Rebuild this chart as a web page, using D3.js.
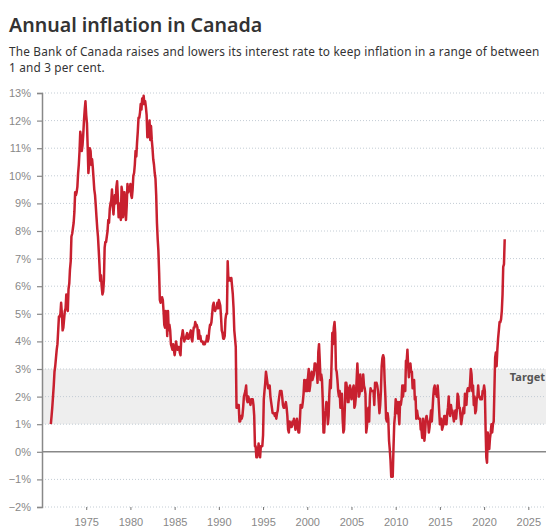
<!DOCTYPE html>
<meta charset="utf-8">
<style>
html, body {
  margin: 0;
  padding: 0;
  background: #fff;
  font-family: "Noto Sans", "Open Sans", sans-serif;
}
.title {
  font-size: 19.6px;
  font-weight: 600;
  fill: #333;
}
.subtitle {
  font-size: 11.8px;
  letter-spacing: 0.18px;
  fill: #333;
}
.tick text {
  font-size: 11px;
  fill: #888;
}
</style>
<svg width="554" height="529"></svg>
<script src="https://cdn.jsdelivr.net/npm/d3@7"></script>
<script>
// monthly 12-month CPI change (%), starting Jan 1971
const startYear = 1971;
const infl1970s = [
  1.0, 1.3, 1.6, 2.0, 2.4, 2.9, 3.1, 3.4, 3.7, 3.9, 4.4, 4.9,
  4.9, 5.0, 5.4, 5.0, 4.4, 4.5, 4.8, 5.1, 5.2, 5.7, 5.3, 5.1,
  5.9, 6.1, 6.6, 6.9, 7.8, 7.9, 8.1, 8.3, 8.7, 9.4, 9.3, 9.4,
  9.6, 10.1, 10.4, 10.9, 11.6, 11.4, 10.9, 11.1, 11.5, 12.0, 12.4, 12.7,
  12.2, 11.9, 11.1, 10.1, 10.4, 11.0, 10.9, 10.4, 10.6, 10.3, 9.9, 9.5,
  9.3, 8.9, 8.5, 8.1, 7.8, 7.3, 6.8, 6.2, 6.4, 6.0, 5.7, 5.8,
  6.2, 7.4, 7.6, 7.6, 7.8, 8.0, 8.4, 8.3, 8.8, 9.0, 9.1, 9.5,
  8.9, 8.6, 9.0, 9.3, 9.0, 9.6, 9.8, 9.2, 8.5, 9.0, 8.6, 8.4,
  9.6, 9.4, 8.5, 8.8, 9.4, 8.9, 8.4, 8.9, 9.7, 9.4, 9.5, 9.5
];
const infl1980s = [
  9.7, 9.3, 9.2, 9.5, 10.0, 10.1, 10.4, 10.9, 10.7, 11.2, 11.6, 12.1,
  12.1, 12.3, 12.6, 12.4, 12.8, 12.6, 12.9, 12.6, 12.7, 12.5, 12.2, 11.4,
  11.4, 11.6, 12.0, 11.3, 11.8, 11.3, 11.0, 10.6, 10.4, 10.1, 9.9, 9.3,
  8.3, 7.7, 7.3, 6.5, 5.5, 5.4, 5.5, 5.6, 5.5, 5.1, 4.6, 4.5,
  5.1, 4.8, 4.2, 5.1, 4.4, 4.6, 4.4, 3.9, 3.8, 3.7, 3.9, 3.7,
  3.5, 3.7, 4.0, 3.8, 3.7, 3.8, 3.8, 3.6, 3.5, 4.1, 4.2, 4.4,
  4.2, 4.0, 4.1, 4.1, 4.2, 4.3, 4.1, 4.1, 4.2, 4.3, 4.4, 4.1,
  4.0, 4.3, 4.5, 4.5, 4.7, 4.6, 4.6, 4.5, 4.1, 4.4, 4.1, 4.2,
  4.0, 4.0, 4.0, 3.9, 3.9, 3.9, 4.0, 4.0, 4.2, 4.0, 4.1, 4.4,
  4.6, 4.6, 4.7, 5.0, 5.3, 5.4, 5.2, 5.1, 5.2, 5.2, 5.4, 5.2
];
const infl1990s = [
  5.5, 5.4, 5.3, 4.9, 4.4, 4.3, 4.1, 4.1, 4.2, 4.8, 5.0, 5.0,
  6.9, 6.2, 6.3, 6.3, 6.2, 6.3, 6.0, 5.7, 5.2, 4.4, 4.1, 3.8,
  1.6, 1.6, 1.7, 1.7, 1.1, 1.1, 1.3, 1.2, 1.3, 1.6, 2.0, 2.1,
  2.2, 2.4, 1.9, 1.8, 2.0, 1.9, 1.8, 1.7, 1.9, 1.9, 1.9, 1.7,
  1.3, 0.2, 0.2, -0.2, -0.2, 0.0, 0.3, 0.0, -0.2, 0.2, 0.2, 0.2,
  0.6, 1.9, 2.2, 2.5, 2.9, 2.7, 2.5, 2.3, 2.3, 2.4, 2.0, 1.8,
  1.6, 1.4, 1.4, 1.4, 1.3, 1.4, 1.2, 1.4, 1.5, 1.8, 2.0, 2.2,
  2.2, 2.2, 2.0, 1.7, 1.6, 1.6, 1.7, 1.8, 1.6, 1.3, 0.8, 0.7,
  1.1, 1.0, 0.9, 0.9, 1.1, 1.0, 1.2, 1.0, 0.8, 1.0, 1.2, 1.0,
  0.7, 0.7, 1.1, 1.7, 1.6, 1.6, 1.8, 2.1, 2.6, 2.3, 2.2, 2.6
];
const infl2000s = [
  2.2, 2.7, 3.0, 2.2, 2.4, 2.8, 2.9, 2.6, 2.7, 2.8, 3.2, 3.2,
  3.0, 2.9, 2.5, 3.6, 3.9, 3.3, 2.6, 2.8, 2.6, 1.9, 0.7, 0.7,
  1.3, 1.5, 1.8, 1.7, 1.0, 1.3, 2.1, 2.6, 2.3, 3.2, 4.3, 3.9,
  4.5, 4.7, 4.3, 3.0, 2.9, 2.6, 2.2, 2.0, 2.2, 1.6, 1.6, 2.1,
  1.2, 0.7, 0.8, 1.6, 2.5, 2.5, 2.3, 1.8, 1.8, 2.3, 2.4, 2.1,
  1.9, 2.1, 2.3, 2.4, 1.6, 1.7, 2.0, 2.6, 3.2, 2.6, 2.0, 2.1,
  2.8, 2.2, 2.2, 2.4, 2.8, 2.4, 2.3, 2.1, 0.7, 0.9, 1.4, 1.6,
  1.1, 2.0, 2.3, 2.2, 2.2, 2.2, 2.2, 1.7, 2.5, 2.4, 2.5, 2.4,
  2.2, 1.8, 1.4, 1.7, 2.2, 3.1, 3.4, 3.5, 3.4, 2.6, 2.0, 1.2,
  1.1, 1.4, 1.2, 0.4, 0.1, -0.3, -0.9, -0.8, -0.9, 0.1, 1.0, 1.3
];
const infl2010s = [
  1.9, 1.6, 1.4, 1.8, 1.4, 1.0, 1.8, 1.7, 1.9, 2.4, 2.0, 2.4,
  2.3, 2.2, 3.3, 3.3, 3.7, 3.1, 2.7, 3.1, 3.2, 2.9, 2.9, 2.3,
  2.5, 2.6, 1.9, 2.0, 1.2, 1.5, 1.3, 1.2, 1.2, 1.2, 0.8, 0.8,
  0.5, 1.2, 1.0, 0.4, 0.7, 1.2, 1.3, 1.1, 1.1, 0.7, 0.9, 1.2,
  1.5, 1.1, 1.5, 2.0, 2.3, 2.4, 2.1, 2.1, 2.0, 2.4, 2.0, 1.5,
  1.0, 1.0, 1.2, 0.8, 0.9, 1.0, 1.3, 1.3, 1.0, 1.0, 1.4, 1.6,
  2.0, 1.4, 1.3, 1.7, 1.5, 1.5, 1.3, 1.1, 1.3, 1.5, 1.2, 1.5,
  2.1, 2.0, 1.6, 1.6, 1.3, 1.0, 1.2, 1.4, 1.6, 1.4, 2.1, 1.9,
  1.7, 2.2, 2.3, 2.2, 2.2, 2.5, 3.0, 2.8, 2.2, 2.4, 1.7, 2.0,
  1.4, 1.5, 1.9, 2.0, 2.4, 2.0, 2.0, 1.9, 1.9, 1.9, 2.2, 2.2
];
const infl2020s = [
  2.4, 2.2, 0.9, -0.2, -0.4, 0.7, 0.1, 0.1, 0.5, 0.7, 1.0, 0.7,
  1.0, 1.1, 2.2, 3.4, 3.6, 3.1, 3.7, 4.1, 4.4, 4.7, 4.7, 4.8,
  5.1, 5.7, 6.7, 6.8, 7.7
];
const yTicks = [-2, -1, 0, 1, 2, 3, 4, 5, 6, 7, 8, 9, 10, 11, 12, 13];
const xTickYears = [1975, 1980, 1985, 1990, 1995, 2000, 2005, 2010, 2015, 2020, 2025];
const targetRange = [1, 3];

const values = [].concat(infl1970s, infl1980s, infl1990s, infl2000s, infl2010s, infl2020s);
const data = values.map((v, i) => ({
  date: new Date(startYear + Math.floor(i / 12), i % 12, 1),
  value: v
}));

const svg = d3.select('svg');
const margin = {left: 42, right: 8, top: 93, bottom: 22};
const width = +svg.attr('width');
const height = +svg.attr('height');

const x = d3.scaleTime()
  .domain([new Date(1970, 0, 1), new Date(2027, 0, 1)])
  .range([margin.left, width - margin.right]);
const y = d3.scaleLinear()
  .domain([-2, 13])
  .range([height - margin.bottom, margin.top]);

// title
svg.append('text')
  .attr('class', 'title')
  .attr('x', 9)
  .attr('y', 32)
  .text('Annual inflation in Canada');
svg.append('text')
  .attr('class', 'subtitle')
  .attr('x', 9)
  .attr('y', 56)
  .text('The Bank of Canada raises and lowers its interest rate to keep inflation in a range of between');
svg.append('text')
  .attr('class', 'subtitle')
  .attr('x', 9)
  .attr('y', 72.3)
  .text('1 and 3 per cent.');

// target band
svg.append('rect')
  .attr('x', margin.left)
  .attr('y', y(targetRange[1]))
  .attr('width', x.range()[1] - margin.left)
  .attr('height', y(targetRange[0]) - y(targetRange[1]))
  .attr('fill', '#eeeeee');

svg.append('text')
  .attr('x', x.range()[1] - 1)
  .attr('y', y(targetRange[1]) + 12)
  .attr('text-anchor', 'end')
  .attr('font-size', 11)
  .attr('font-weight', 700)
  .attr('fill', '#555')
  .text('Target');

// grid
svg.append('g')
  .selectAll('line')
  .data(yTicks.filter(d => d !== 0))
  .enter()
  .append('line')
  .attr('x1', margin.left)
  .attr('x2', x.range()[1])
  .attr('y1', d => y(d))
  .attr('y2', d => y(d))
  .attr('stroke', '#c3ccd4')
  .attr('stroke-width', 1)
  .attr('stroke-dasharray', '1,2');

// y axis
const fmt = d => (d < 0 ? '\u2212' + Math.abs(d) : d) + '%';
const yAxis = svg.append('g')
  .attr('transform', `translate(${margin.left},0)`)
  .call(d3.axisLeft(y).tickValues(yTicks).tickFormat(fmt).tickSize(5).tickPadding(6));
yAxis.select('.domain').attr('stroke', '#888').attr('stroke-width', 1.5);
yAxis.selectAll('.tick line').attr('stroke', '#888').attr('stroke-width', 1.2);

// x axis (ticks only)
const xAxis = svg.append('g')
  .attr('transform', `translate(0,${y(-2)})`)
  .call(d3.axisBottom(x)
    .tickValues(xTickYears.map(yr => new Date(yr, 0, 1)))
    .tickFormat(d3.timeFormat('%Y'))
    .tickSize(3)
    .tickPadding(8));
xAxis.select('.domain').remove();
xAxis.selectAll('.tick line').attr('stroke', '#777');

// zero line
svg.append('line')
  .attr('x1', margin.left)
  .attr('x2', x.range()[1])
  .attr('y1', y(0))
  .attr('y2', y(0))
  .attr('stroke', '#888')
  .attr('stroke-width', 1.5);

// inflation line
const line = d3.line()
  .x(d => x(d.date))
  .y(d => y(d.value));

svg.append('path')
  .datum(data)
  .attr('fill', 'none')
  .attr('stroke', '#c8202f')
  .attr('stroke-width', 2.5)
  .attr('stroke-linejoin', 'round')
  .attr('d', line);
</script>
